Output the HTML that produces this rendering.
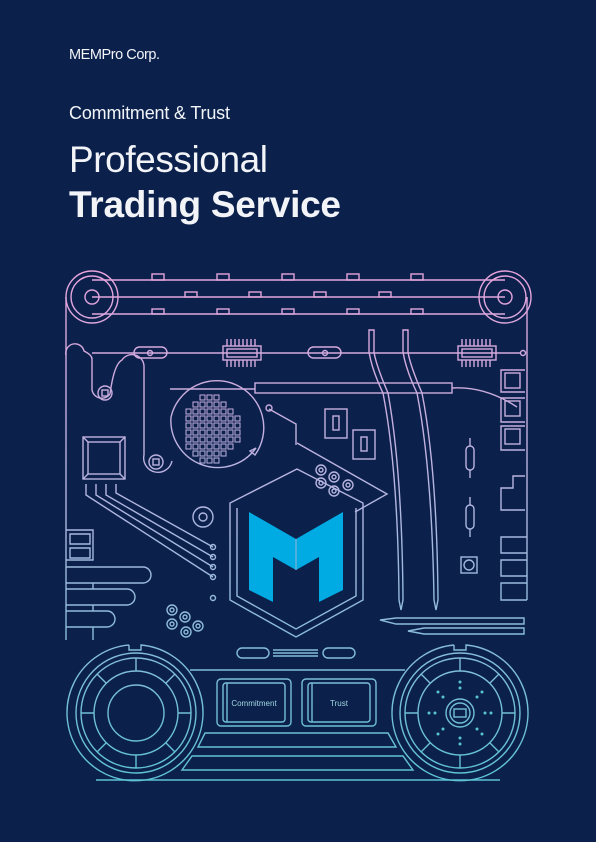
<!DOCTYPE html>
<html><head><meta charset="utf-8"><style>
html,body{margin:0;padding:0;background:#0b214c;}
svg{display:block}
text{font-family:"Liberation Sans",sans-serif;fill:#f2f4f8}
</style></head><body>
<svg width="596" height="842" viewBox="0 0 596 842" xmlns="http://www.w3.org/2000/svg">
<defs>
<linearGradient id="g" gradientUnits="userSpaceOnUse" x1="0" y1="265" x2="0" y2="790">
<stop offset="0" stop-color="#e9a3dc"/><stop offset="0.45" stop-color="#b3b6e0"/><stop offset="1" stop-color="#5ac3d4"/>
</linearGradient>
</defs>
<rect width="596" height="842" fill="#0b214c"/>
<text x="69" y="59" font-size="14.5" textLength="91">MEMPro Corp.</text>
<text x="69" y="119" font-size="18" textLength="161">Commitment &amp; Trust</text>
<text x="69" y="172" font-size="37" textLength="199">Professional</text>
<text x="69" y="217" font-size="37" font-weight="bold" textLength="272">Trading Service</text>

<g fill="none" stroke="url(#g)" stroke-width="1.4">
<circle cx="92" cy="297" r="26"/><circle cx="92" cy="297" r="21"/><circle cx="92" cy="297" r="7"/>
<circle cx="505" cy="297" r="26"/><circle cx="505" cy="297" r="21"/><circle cx="505" cy="297" r="7"/>
<line x1="92" y1="280" x2="505" y2="280"/><line x1="92" y1="297" x2="505" y2="297"/><line x1="92" y1="314" x2="505" y2="314"/>
<g>
<rect x="152" y="274" width="12" height="6"/><rect x="217" y="274" width="12" height="6"/><rect x="282" y="274" width="12" height="6"/><rect x="347" y="274" width="12" height="6"/><rect x="411" y="274" width="12" height="6"/>
<rect x="185" y="292" width="12" height="5"/><rect x="249" y="292" width="12" height="5"/><rect x="314" y="292" width="12" height="5"/><rect x="379" y="292" width="12" height="5"/>
<rect x="152" y="309" width="12" height="5"/><rect x="217" y="309" width="12" height="5"/><rect x="282" y="309" width="12" height="5"/><rect x="347" y="309" width="12" height="5"/><rect x="411" y="309" width="12" height="5"/>
</g>
<path d="M66 297 V640"/><path d="M527 297 V600"/>
<path d="M66 355 a9 9 0 0 1 18 -4 q8 4 8 8 V390 a10 10 0 0 0 18 4 q4 -30 12 -34 a12 12 0 0 1 22 6 V455 a14 14 0 0 0 28 6"/>
<line x1="92" y1="353" x2="521" y2="353"/><circle cx="523" cy="353" r="2.5"/>
<rect x="134" y="347" width="33" height="11" rx="5.5"/><circle cx="150" cy="353" r="2.5"/>
<rect x="308" y="347" width="33" height="11" rx="5.5"/><circle cx="325" cy="353" r="2.5"/>
<rect x="223" y="346" width="38" height="14"/><rect x="227" y="349" width="30" height="8"/>
<path d="M227 346v-7M231 346v-7M235 346v-7M239 346v-7M243 346v-7M247 346v-7M251 346v-7M255 346v-7M227 360v7M231 360v7M235 360v7M239 360v7M243 360v7M247 360v7M251 360v7M255 360v7"/>
<rect x="458" y="346" width="38" height="14"/><rect x="462" y="349" width="30" height="8"/>
<path d="M462 346v-7M466 346v-7M470 346v-7M474 346v-7M478 346v-7M482 346v-7M486 346v-7M490 346v-7M462 360v7M466 360v7M470 360v7M474 360v7M478 360v7M482 360v7M486 360v7M490 360v7"/>
<circle cx="105" cy="393" r="7"/><rect x="102" y="390" width="6" height="6"/>
<circle cx="156" cy="462" r="7"/><rect x="153" y="459" width="6" height="6"/>
<path d="M170 389 H255"/><rect x="255" y="383" width="197" height="10"/><path d="M452 388 Q485 386 517 407"/>
<path d="M525 370 H501 V392 H525"/><rect x="505" y="373" width="15" height="15"/>
<path d="M525 398 H501 V422 H525"/><rect x="505" y="401" width="15" height="15"/>
<path d="M525 426 H501 V450 H525"/><rect x="505" y="429" width="15" height="15"/>
<path d="M525 476 H513 V488 H501 V510 H525"/>
<path d="M369 330 V352 Q372 370 383 393 Q398 470 399 600 L401 610 L403 600 Q402 470 388 393 Q376 365 374 352 V330 Z"/>
<path d="M403 330 V352 Q406 370 417 393 Q432 470 434 600 L436 610 L438 600 Q437 470 422 393 Q410 365 408 352 V330 Z"/>
<path d="M171 417 A47 47 0 1 1 255 455 L250 451 L256 448 A47 47 0 0 1 171 417" />
<g stroke-width="1">
<rect x="200" y="395" width="5" height="5"/><rect x="207" y="395" width="5" height="5"/><rect x="214" y="395" width="5" height="5"/>
<rect x="193" y="402" width="5" height="5"/><rect x="200" y="402" width="5" height="5"/><rect x="207" y="402" width="5" height="5"/><rect x="214" y="402" width="5" height="5"/><rect x="221" y="402" width="5" height="5"/>
<rect x="186" y="409" width="5" height="5"/><rect x="193" y="409" width="5" height="5"/><rect x="200" y="409" width="5" height="5"/><rect x="207" y="409" width="5" height="5"/><rect x="214" y="409" width="5" height="5"/><rect x="221" y="409" width="5" height="5"/><rect x="228" y="409" width="5" height="5"/>
<rect x="186" y="416" width="5" height="5"/><rect x="193" y="416" width="5" height="5"/><rect x="200" y="416" width="5" height="5"/><rect x="207" y="416" width="5" height="5"/><rect x="214" y="416" width="5" height="5"/><rect x="221" y="416" width="5" height="5"/><rect x="228" y="416" width="5" height="5"/><rect x="235" y="416" width="5" height="5"/>
<rect x="186" y="423" width="5" height="5"/><rect x="193" y="423" width="5" height="5"/><rect x="200" y="423" width="5" height="5"/><rect x="207" y="423" width="5" height="5"/><rect x="214" y="423" width="5" height="5"/><rect x="221" y="423" width="5" height="5"/><rect x="228" y="423" width="5" height="5"/><rect x="235" y="423" width="5" height="5"/>
<rect x="186" y="430" width="5" height="5"/><rect x="193" y="430" width="5" height="5"/><rect x="200" y="430" width="5" height="5"/><rect x="207" y="430" width="5" height="5"/><rect x="214" y="430" width="5" height="5"/><rect x="221" y="430" width="5" height="5"/><rect x="228" y="430" width="5" height="5"/><rect x="235" y="430" width="5" height="5"/>
<rect x="186" y="437" width="5" height="5"/><rect x="193" y="437" width="5" height="5"/><rect x="200" y="437" width="5" height="5"/><rect x="207" y="437" width="5" height="5"/><rect x="214" y="437" width="5" height="5"/><rect x="221" y="437" width="5" height="5"/><rect x="228" y="437" width="5" height="5"/><rect x="235" y="437" width="5" height="5"/>
<rect x="186" y="444" width="5" height="5"/><rect x="193" y="444" width="5" height="5"/><rect x="200" y="444" width="5" height="5"/><rect x="207" y="444" width="5" height="5"/><rect x="214" y="444" width="5" height="5"/><rect x="221" y="444" width="5" height="5"/><rect x="228" y="444" width="5" height="5"/>
<rect x="193" y="451" width="5" height="5"/><rect x="200" y="451" width="5" height="5"/><rect x="207" y="451" width="5" height="5"/><rect x="214" y="451" width="5" height="5"/><rect x="221" y="451" width="5" height="5"/>
<rect x="200" y="458" width="5" height="5"/><rect x="207" y="458" width="5" height="5"/><rect x="214" y="458" width="5" height="5"/>
</g>
<rect x="83" y="437" width="42" height="42"/><rect x="88" y="442" width="32" height="32"/>
<path d="M83 437 L88 442 M125 437 L120 442 M83 479 L88 474 M125 479 L120 474"/>
<path d="M86 484 V495 L213 577 M96 484 V495 L213 567 M106 484 V495 L213 557 M116 484 V493 L213 547"/>
<circle cx="213" cy="567" r="2.5"/><circle cx="213" cy="557" r="2.5"/><circle cx="213" cy="547" r="2.5"/><circle cx="213" cy="577" r="2.5"/><circle cx="213" cy="598" r="2.5"/>
<circle cx="203" cy="517" r="10"/><circle cx="203" cy="517" r="4"/>
<rect x="325" y="409" width="22" height="29"/><rect x="333" y="416" width="6" height="14"/>
<rect x="353" y="430" width="22" height="29"/><rect x="361" y="437" width="6" height="14"/>
<path d="M269 409 L296 424 V445"/><circle cx="269" cy="408" r="3"/>
<path d="M470 438v8M470 470v8"/><rect x="466" y="446" width="8" height="24" rx="4"/>
<path d="M470 497v8M470 529v8"/><rect x="466" y="505" width="8" height="24" rx="4"/>
<rect x="461" y="557" width="16" height="16"/><circle cx="469" cy="565" r="5"/>
<path d="M527 537 H501 V553 H527 M527 560 H501 V576 H527 M527 583 H501 V600 H527"/>
<path d="M380 620 L396 618 H524 V624 H396 Z"/><path d="M408 631 L424 628 H524 V634 H424 Z"/>
<path d="M297 443 L387 494 L355 512"/>
<path d="M297 469 L230 503 V600 L296 637 L363 600 V503 Z"/>
<path d="M237 508 V596 L296 629 L356 596 V508"/>
<circle cx="321" cy="470" r="5"/><circle cx="321" cy="470" r="2"/>
<circle cx="334" cy="477" r="5"/><circle cx="334" cy="477" r="2"/>
<circle cx="321" cy="483" r="5"/><circle cx="321" cy="483" r="2"/>
<circle cx="348" cy="485" r="5"/><circle cx="348" cy="485" r="2"/>
<circle cx="334" cy="491" r="5"/><circle cx="334" cy="491" r="2"/>
<path d="M66 530 H93 V560 H66 M70 534 H90 V544 H70 Z M70 548 H90 V558 H70 Z"/>
<path d="M66 567 H143 a8 8 0 0 1 0 16 H66 M66 589 H127 a8 8 0 0 1 0 16 H66 M66 611 H107 a8 8 0 0 1 0 16 H66 M93 583 V589 M93 605 V611 M93 627 V640"/>
<circle cx="172" cy="610" r="5"/><circle cx="172" cy="610" r="2"/><circle cx="185" cy="617" r="5"/><circle cx="185" cy="617" r="2"/><circle cx="198" cy="626" r="5"/><circle cx="198" cy="626" r="2"/><circle cx="172" cy="624" r="5"/><circle cx="172" cy="624" r="2"/><circle cx="186" cy="632" r="5"/><circle cx="186" cy="632" r="2"/>
<rect x="237" y="648" width="32" height="10" rx="5"/><rect x="323" y="648" width="32" height="10" rx="5"/><path d="M273 650 H318 M273 653 H318 M273 656 H318"/>
<path d="M190 670 H405"/>
<rect x="217" y="679" width="74" height="47" rx="4"/><rect x="223" y="683" width="62" height="39" rx="3"/><line x1="227" y1="683" x2="227" y2="722"/>
<rect x="302" y="679" width="74" height="47" rx="4"/><rect x="308" y="683" width="62" height="39" rx="3"/><line x1="312" y1="683" x2="312" y2="722"/>
<path d="M205 733 H388 L396 747 H198 Z"/><path d="M192 756 H403 L413 770 H182 Z"/>
<path d="M96 780 H500"/>
<path d="M129 645 V650 H141 V645 A68 68 0 1 1 129 645"/>
<circle cx="136" cy="713" r="60"/><circle cx="136" cy="713" r="55"/><circle cx="136" cy="713" r="42"/><circle cx="136" cy="713" r="28"/>
<path d="M136 658 V671 M136 755 V768 M81 713 H94 M178 713 H191 M97 674 L106 683 M166 743 L175 752 M97 752 L106 743 M166 683 L175 674"/>
<path d="M454 645 V650 H466 V645 A68 68 0 1 1 454 645"/>
<circle cx="460" cy="713" r="60"/><circle cx="460" cy="713" r="55"/><circle cx="460" cy="713" r="42"/><circle cx="460" cy="713" r="14"/><circle cx="460" cy="713" r="10"/><rect x="454" y="709" width="12" height="8"/>
<path d="M460 658 V671 M460 755 V768 M405 713 H418 M502 713 H515 M421 674 L430 683 M490 743 L499 752 M421 752 L430 743 M490 683 L499 674"/>
</g>
<g fill="#5ac3d4">
<circle cx="460" cy="682" r="1.5"/><circle cx="460" cy="688" r="1.5"/><circle cx="460" cy="738" r="1.5"/><circle cx="460" cy="744" r="1.5"/>
<circle cx="429" cy="713" r="1.5"/><circle cx="435" cy="713" r="1.5"/><circle cx="485" cy="713" r="1.5"/><circle cx="491" cy="713" r="1.5"/>
<circle cx="438" cy="692" r="1.5"/><circle cx="443" cy="697" r="1.5"/><circle cx="482" cy="692" r="1.5"/><circle cx="477" cy="697" r="1.5"/>
<circle cx="438" cy="734" r="1.5"/><circle cx="443" cy="729" r="1.5"/><circle cx="482" cy="734" r="1.5"/><circle cx="477" cy="729" r="1.5"/>
</g>
<path fill="#00abe3" d="M249 512 L296 539 L343 512 V590 L319 602 V557 L296 570 L273 557 V602 L249 590 Z"/>
<path fill="none" stroke="#9fb0d8" stroke-width="1" d="M296 539 V570"/>
<text x="254" y="706" font-size="8" text-anchor="middle" style="fill:#9fd6e0">Commitment</text>
<text x="339" y="706" font-size="8" text-anchor="middle" style="fill:#9fd6e0">Trust</text>
</svg>
</body></html>
